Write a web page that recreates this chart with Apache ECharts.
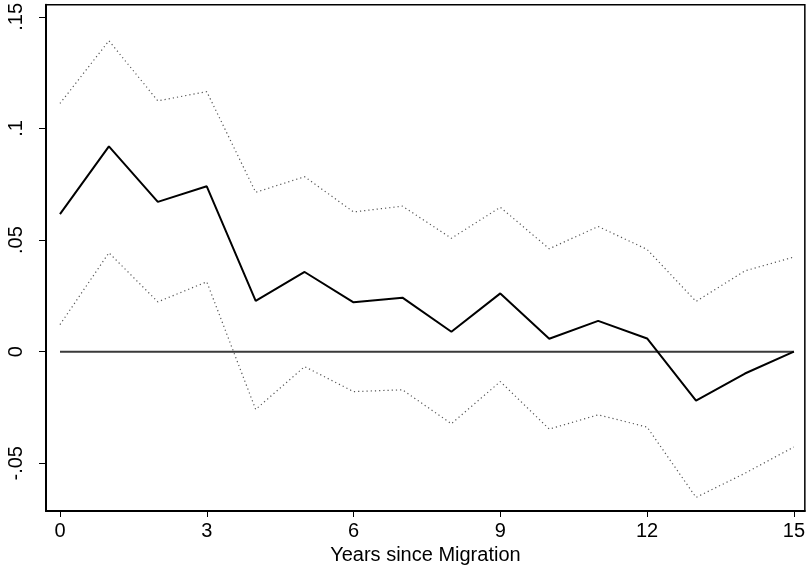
<!DOCTYPE html>
<html>
<head>
<meta charset="utf-8">
<script src="https://cdn.jsdelivr.net/npm/echarts@6/dist/echarts.min.js"></script>
<style>html,body{margin:0;padding:0;background:#fff;}#c{width:808px;height:571px;}</style>
</head>
<body>
<div id="c"></div>
<script>
const years = [0,1,2,3,4,5,6,7,8,9,10,11,12,13,14,15];
const estimate = [0.0616,0.0920,0.0671,0.0741,0.0228,0.0357,0.0221,0.0242,0.0089,0.0261,0.0058,0.0138,0.0059,-0.0219,-0.0098,0.0];
const upperCI = [0.1112,0.1393,0.1124,0.1165,0.0714,0.0784,0.0626,0.0652,0.0508,0.0647,0.0461,0.0561,0.0458,0.0225,0.0362,0.0424];
const lowerCI = [0.0121,0.0443,0.0223,0.0313,-0.0259,-0.0067,-0.0179,-0.0171,-0.0323,-0.0134,-0.0347,-0.0283,-0.0338,-0.0653,-0.0545,-0.0427];
const zeroLine = [0,0,0,0,0,0,0,0,0,0,0,0,0,0,0,0];
const xTicks = [0,3,6,9,12,15];
const yTicks = [-0.05,0,0.05,0.1,0.15];
const yTickLabels = ['-.05','0','.05','.1','.15'];
const xTitle = 'Years since Migration';

const pair = arr => years.map((x,i)=>[x,arr[i]]);
const font = '"Liberation Sans", Arial, sans-serif';

const chart = echarts.init(document.getElementById('c'), null, {renderer:'canvas'});
chart.setOption({
  animation:false,
  backgroundColor:'#fff',
  grid:{left:46,right:2,top:3,bottom:60,show:true,borderColor:'#000',borderWidth:1.5,backgroundColor:'#fff'},
  xAxis:{
    type:'value', min:-0.2857, max:15.224,
    axisLine:{show:true,onZero:false,lineStyle:{color:'#000',width:2}},
    axisTick:{show:true,length:6,customValues:xTicks,lineStyle:{color:'#000',width:1}},
    axisLabel:{show:true,customValues:xTicks,margin:10,color:'#000',fontSize:20,fontFamily:font},
    splitLine:{show:false},
    name:xTitle,nameLocation:'middle',nameGap:30,
    nameTextStyle:{color:'#000',fontSize:20,fontFamily:font}
  },
  yAxis:{
    type:'value', min:-0.0714, max:0.1554,
    axisLine:{show:true,onZero:false,lineStyle:{color:'#000',width:2}},
    axisTick:{show:true,length:7,customValues:yTicks,lineStyle:{color:'#000',width:1}},
    axisLabel:{show:true,customValues:yTicks,rotate:90,margin:20,color:'#000',fontSize:20,fontFamily:font,
      formatter:v=>{const i=yTicks.findIndex(t=>Math.abs(t-v)<1e-9);return i>=0?yTickLabels[i]:'';}},
    splitLine:{show:false}
  },
  series:[
    {type:'line',data:pair(zeroLine),symbol:'none',lineStyle:{color:'#3a3a3a',width:2},z:2},
    {type:'line',data:pair(upperCI),symbol:'none',lineStyle:{color:'#555',width:1.2,type:[1.2,3]},z:3},
    {type:'line',data:pair(lowerCI),symbol:'none',lineStyle:{color:'#555',width:1.2,type:[1.2,3]},z:3},
    {type:'line',data:pair(estimate),symbol:'none',lineStyle:{color:'#000',width:2},z:4}
  ]
});
</script>
</body>
</html>
